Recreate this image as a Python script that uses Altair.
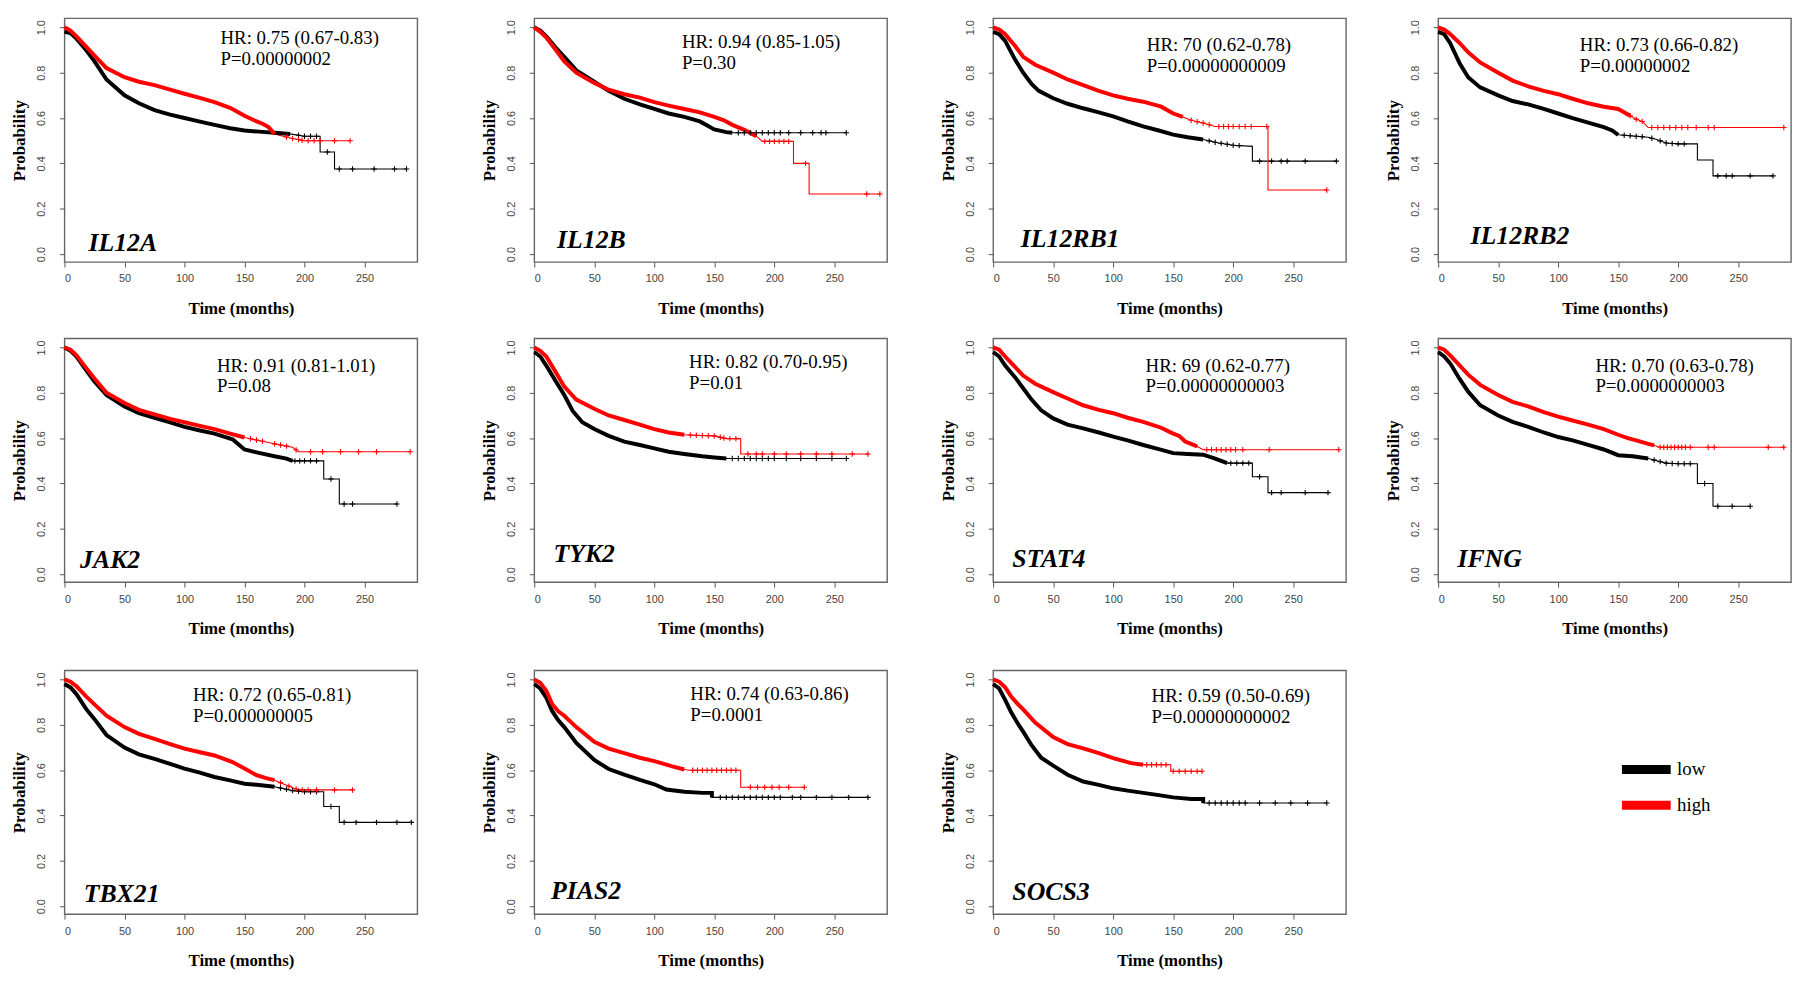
import altair as alt
import pandas as pd

genes = ["IL12A", "IL12B", "IL12RB1", "IL12RB2", "JAK2", "TYK2",
         "STAT4", "IFNG", "TBX21", "PIAS2", "SOCS3"]

hr_text = {
    "IL12A": "HR: 0.75 (0.67-0.83)", "IL12B": "HR: 0.94 (0.85-1.05)",
    "IL12RB1": "HR: 70 (0.62-0.78)", "IL12RB2": "HR: 0.73 (0.66-0.82)",
    "JAK2": "HR: 0.91 (0.81-1.01)", "TYK2": "HR: 0.82 (0.70-0.95)",
    "STAT4": "HR: 69 (0.62-0.77)", "IFNG": "HR: 0.70 (0.63-0.78)",
    "TBX21": "HR: 0.72 (0.65-0.81)", "PIAS2": "HR: 0.74 (0.63-0.86)",
    "SOCS3": "HR: 0.59 (0.50-0.69)",
}
p_text = {
    "IL12A": "P=0.00000002", "IL12B": "P=0.30", "IL12RB1": "P=0.00000000009",
    "IL12RB2": "P=0.00000002", "JAK2": "P=0.08", "TYK2": "P=0.01",
    "STAT4": "P=0.00000000003", "IFNG": "P=0.0000000003", "TBX21": "P=0.000000005",
    "PIAS2": "P=0.0001", "SOCS3": "P=0.00000000002",
}

# ---- survival curves (time in months, probability); repeated times are drops
low_t = {
    "IL12A": [0,5,10,18,25,35,50,62,75,88,100,112,125,138,150,162,175,188,200,213,213,225,225,285],
    "IL12B": [0,5,10,18,25,35,50,62,75,88,100,112,125,138,150,160,165,260],
    "IL12RB1": [0,5,10,18,25,32,38,50,62,75,88,100,112,125,138,150,162,175,188,200,216,216,286],
    "IL12RB2": [0,5,10,18,25,35,50,62,75,88,100,112,125,138,145,150,175,182,190,200,216,216,229,229,279],
    "JAK2": [0,5,10,18,25,35,50,62,75,88,100,112,125,140,150,162,175,185,190,216,216,229,229,277],
    "TYK2": [0,5,10,18,25,32,40,50,62,75,88,100,112,125,140,150,160,260],
    "STAT4": [0,5,10,18,25,32,40,50,62,75,88,100,112,125,138,150,162,175,185,195,216,216,229,229,279],
    "IFNG": [0,5,10,18,25,35,50,62,75,88,100,112,125,138,150,162,175,190,200,216,216,229,229,260],
    "TBX21": [0,5,10,18,25,35,50,62,75,88,100,112,125,138,150,162,175,190,200,216,216,229,229,289],
    "PIAS2": [0,5,10,15,20,25,35,50,62,75,88,100,110,125,140,148,148,278],
    "SOCS3": [0,5,10,15,20,25,32,40,50,62,75,88,100,112,125,138,150,165,175,175,278],
}
low_s = {
    "IL12A": [0.98,0.975,0.95,0.90,0.85,0.77,0.70,0.665,0.635,0.615,0.60,0.585,0.57,0.555,0.545,0.54,0.535,0.53,0.52,0.52,0.45,0.45,0.375,0.375],
    "IL12B": [1.0,0.985,0.96,0.91,0.87,0.81,0.76,0.72,0.685,0.66,0.64,0.62,0.605,0.585,0.55,0.538,0.535,0.535],
    "IL12RB1": [0.98,0.97,0.94,0.86,0.80,0.75,0.72,0.687,0.663,0.643,0.625,0.607,0.585,0.563,0.545,0.527,0.515,0.505,0.49,0.48,0.475,0.41,0.41],
    "IL12RB2": [0.98,0.97,0.93,0.84,0.78,0.735,0.70,0.675,0.66,0.64,0.62,0.60,0.58,0.56,0.545,0.526,0.515,0.505,0.49,0.486,0.486,0.415,0.415,0.345,0.345],
    "JAK2": [1.0,0.985,0.96,0.90,0.85,0.79,0.74,0.71,0.69,0.67,0.65,0.635,0.62,0.595,0.55,0.535,0.52,0.51,0.50,0.50,0.42,0.42,0.31,0.31],
    "TYK2": [0.98,0.96,0.92,0.85,0.79,0.72,0.67,0.64,0.61,0.585,0.57,0.555,0.54,0.53,0.52,0.515,0.51,0.51],
    "STAT4": [0.98,0.96,0.92,0.87,0.82,0.77,0.723,0.687,0.66,0.643,0.625,0.607,0.59,0.57,0.552,0.534,0.53,0.527,0.51,0.49,0.49,0.43,0.43,0.36,0.36],
    "IFNG": [0.98,0.96,0.93,0.86,0.805,0.745,0.70,0.672,0.65,0.625,0.605,0.59,0.57,0.55,0.525,0.52,0.51,0.49,0.487,0.487,0.40,0.40,0.30,0.30],
    "TBX21": [0.98,0.965,0.935,0.87,0.825,0.755,0.70,0.67,0.65,0.628,0.607,0.59,0.57,0.555,0.54,0.535,0.527,0.51,0.505,0.505,0.44,0.44,0.37,0.37],
    "PIAS2": [0.98,0.96,0.92,0.86,0.82,0.79,0.72,0.645,0.605,0.58,0.557,0.538,0.515,0.505,0.50,0.50,0.48,0.48],
    "SOCS3": [0.98,0.96,0.91,0.855,0.81,0.77,0.71,0.655,0.62,0.58,0.55,0.535,0.52,0.51,0.50,0.49,0.48,0.473,0.473,0.455,0.455],
}
high_t = {
    "IL12A": [0,5,10,18,25,35,50,62,75,88,100,112,125,138,150,158,165,170,175,182,190,200,238],
    "IL12B": [0,5,10,18,25,35,50,62,75,88,100,112,125,138,150,158,165,175,185,190,216,216,229,229,288],
    "IL12RB1": [0,5,10,18,25,35,50,62,75,88,100,112,125,140,150,158,165,175,185,229,229,278],
    "IL12RB2": [0,5,10,18,25,35,50,62,75,88,100,112,125,138,150,160,165,170,175,288],
    "JAK2": [0,5,10,18,25,35,50,62,75,88,100,112,125,138,150,162,175,190,195,288],
    "TYK2": [0,5,10,18,25,35,50,62,75,88,100,112,125,138,150,160,172,172,278],
    "STAT4": [0,5,10,18,25,35,50,62,75,88,100,112,125,140,150,155,160,165,170,175,288],
    "IFNG": [0,5,10,18,25,35,50,62,75,88,100,112,125,138,150,158,165,175,180,185,288],
    "TBX21": [0,5,10,18,25,35,50,62,75,88,100,112,125,140,150,160,168,175,185,195,240],
    "PIAS2": [0,5,10,15,20,25,35,50,62,75,88,100,115,125,130,172,172,225],
    "SOCS3": [0,5,10,15,20,25,35,50,62,75,88,100,115,125,140,148,148,174],
}
high_s = {
    "IL12A": [1.0,0.985,0.96,0.915,0.875,0.82,0.78,0.76,0.745,0.725,0.707,0.69,0.67,0.645,0.61,0.59,0.575,0.56,0.53,0.52,0.51,0.50,0.50],
    "IL12B": [1.0,0.98,0.955,0.90,0.85,0.80,0.755,0.725,0.705,0.69,0.67,0.655,0.64,0.625,0.605,0.59,0.57,0.548,0.52,0.497,0.497,0.40,0.40,0.265,0.265],
    "IL12RB1": [1.0,0.99,0.97,0.92,0.87,0.835,0.80,0.77,0.745,0.72,0.70,0.685,0.672,0.65,0.62,0.605,0.59,0.578,0.563,0.563,0.283,0.283],
    "IL12RB2": [1.0,0.99,0.97,0.93,0.89,0.845,0.80,0.765,0.74,0.72,0.705,0.685,0.665,0.65,0.64,0.61,0.595,0.585,0.558,0.558],
    "JAK2": [1.0,0.99,0.965,0.91,0.863,0.80,0.755,0.725,0.705,0.685,0.67,0.655,0.64,0.62,0.603,0.59,0.575,0.56,0.54,0.54],
    "TYK2": [1.0,0.985,0.96,0.89,0.827,0.77,0.73,0.70,0.68,0.66,0.64,0.625,0.615,0.612,0.61,0.598,0.598,0.53,0.53],
    "STAT4": [1.0,0.99,0.96,0.915,0.876,0.84,0.803,0.775,0.745,0.725,0.71,0.69,0.672,0.646,0.62,0.61,0.585,0.575,0.563,0.549,0.549],
    "IFNG": [1.0,0.99,0.965,0.92,0.88,0.835,0.79,0.76,0.74,0.715,0.695,0.678,0.66,0.64,0.615,0.60,0.59,0.575,0.568,0.56,0.56],
    "TBX21": [1.0,0.99,0.97,0.925,0.89,0.84,0.79,0.76,0.738,0.715,0.695,0.68,0.665,0.636,0.607,0.578,0.565,0.556,0.534,0.513,0.513],
    "PIAS2": [1.0,0.985,0.95,0.89,0.86,0.84,0.79,0.725,0.695,0.675,0.655,0.64,0.617,0.603,0.60,0.60,0.525,0.525],
    "SOCS3": [1.0,0.99,0.965,0.925,0.895,0.868,0.81,0.746,0.715,0.696,0.675,0.653,0.631,0.624,0.624,0.624,0.595,0.595],
}
# censoring marks in the sparse tails
low_cens = {
    "IL12A": [195,200,205,210,219,229,240,258,275,285],
    "IL12B": [170,175,180,185,190,195,200,205,212,222,232,239,243,260],
    "IL12RB1": [180,185,190,195,200,205,222,232,240,245,260,286],
    "IL12RB2": [155,160,165,170,178,185,190,195,200,205,233,240,245,260,279],
    "JAK2": [192,196,200,205,210,222,233,240,277],
    "TYK2": [165,170,175,180,185,190,195,200,210,222,235,248,260],
    "STAT4": [198,203,208,213,222,232,240,260,279],
    "IFNG": [180,185,190,195,200,205,210,222,233,245,260],
    "TBX21": [180,185,190,195,200,205,210,222,233,243,260,277,289],
    "PIAS2": [155,160,165,170,175,180,185,190,195,200,205,215,222,235,248,262,278],
    "SOCS3": [180,185,190,195,200,205,210,222,235,248,262,278],
}
high_cens = {
    "IL12A": [185,190,195,198,203,208,213,225,238],
    "IL12B": [192,196,200,204,208,212,226,277,288],
    "IL12RB1": [165,170,175,180,188,192,196,200,205,210,215,228,278],
    "IL12RB2": [160,165,170,178,183,188,193,198,203,208,215,225,230,288],
    "JAK2": [155,160,165,175,180,185,193,205,215,230,245,260,288],
    "TYK2": [130,135,140,145,150,155,158,163,168,178,185,190,200,210,222,235,248,265,278],
    "STAT4": [178,182,186,190,194,198,202,208,230,288],
    "IFNG": [185,188,191,194,197,200,203,206,210,225,230,275,288],
    "TBX21": [180,187,193,198,203,210,225,240],
    "PIAS2": [132,136,140,144,148,152,156,160,164,168,180,186,192,198,204,212,225],
    "SOCS3": [128,132,136,140,144,150,155,160,165,170,174],
}
# end of the densely censored stretch (drawn heavier)
low_dense = {"IL12A": 190, "IL12B": 195, "IL12RB1": 175, "IL12RB2": 150, "JAK2": 190, "TYK2": 160,
             "STAT4": 195, "IFNG": 178, "TBX21": 178, "PIAS2": 150, "SOCS3": 175}
high_dense = {"IL12A": 180, "IL12B": 185, "IL12RB1": 160, "IL12RB2": 160, "JAK2": 150, "TYK2": 125,
              "STAT4": 170, "IFNG": 180, "TBX21": 175, "PIAS2": 128, "SOCS3": 125}

# annotation anchors (months, probability)
hr_anchor_t = {"IL12A": 130, "IL12B": 123, "IL12RB1": 128, "IL12RB2": 118, "JAK2": 127, "TYK2": 129,
               "STAT4": 127, "IFNG": 131, "TBX21": 107, "PIAS2": 130, "SOCS3": 132}
hr_anchor_s = {"IL12A": 0.952, "IL12B": 0.935, "IL12RB1": 0.92, "IL12RB2": 0.92, "JAK2": 0.92, "TYK2": 0.935,
               "STAT4": 0.92, "IFNG": 0.92, "TBX21": 0.93, "PIAS2": 0.935, "SOCS3": 0.925}
gene_anchor_t = {"IL12A": 20, "IL12B": 19, "IL12RB1": 23, "IL12RB2": 27, "JAK2": 13, "TYK2": 16,
                 "STAT4": 16, "IFNG": 16, "TBX21": 16, "PIAS2": 14, "SOCS3": 16}
gene_anchor_s = {"IL12A": 0.05, "IL12B": 0.063, "IL12RB1": 0.066, "IL12RB2": 0.08, "JAK2": 0.061, "TYK2": 0.087,
                 "STAT4": 0.066, "IFNG": 0.066, "TBX21": 0.053, "PIAS2": 0.069, "SOCS3": 0.061}

GROUPS = ["low", "high"]
COLORS = ["#000000", "#ff0000"]
W, H = 356, 246
XDOM = [0, 294]
YDOM = [-0.035, 1.04]
SERIF = "Liberation Serif"


def value_at(ts, ss, t):
    v = ss[0]
    for i in range(len(ts) - 1):
        t0, t1 = ts[i], ts[i + 1]
        if t1 > t0 and t0 <= t <= t1:
            v = ss[i] + (ss[i + 1] - ss[i]) * (t - t0) / (t1 - t0)
        elif t1 == t0 and t >= t1:
            v = ss[i + 1]
    if t >= ts[-1]:
        v = ss[-1]
    return v


def panel(g, legend=False):
    rows, dense, cens = [], [], []
    for grp, T, S, C, D in [("low", low_t, low_s, low_cens, low_dense),
                            ("high", high_t, high_s, high_cens, high_dense)]:
        for i, (t, s) in enumerate(zip(T[g], S[g])):
            rows.append({"group": grp, "t": t, "s": s, "i": i})
            if t <= D[g]:
                dense.append({"group": grp, "t": t, "s": s, "i": i})
        for t in C[g]:
            cens.append({"group": grp, "t": t, "s": value_at(T[g], S[g], t)})
    df, dd, dc = pd.DataFrame(rows), pd.DataFrame(dense), pd.DataFrame(cens)

    xenc = alt.X("t:Q", scale=alt.Scale(domain=XDOM, nice=False, zero=False),
                 axis=alt.Axis(values=[0, 50, 100, 150, 200, 250], title="Time (months)"))
    yenc = alt.Y("s:Q", scale=alt.Scale(domain=YDOM, nice=False, zero=False),
                 axis=alt.Axis(values=[0, 0.2, 0.4, 0.6, 0.8, 1.0], format=".1f", title="Probability",
                               labelAngle=270, labelAlign="center", labelBaseline="bottom"))
    if legend:
        leg = alt.Legend(title=None, orient="none", legendX=643, legendY=84,
                         symbolType="M-2.2,0H2.2", symbolSize=500, symbolStrokeWidth=9,
                         labelFont=SERIF, labelFontSize=19, labelColor="black",
                         labelOffset=15, rowPadding=0, padding=0)
    else:
        leg = None
    cscale = alt.Scale(domain=GROUPS, range=COLORS)

    def cenc():
        return alt.Color("group:N", scale=cscale, legend=leg)

    thin = alt.Chart(df).mark_line(strokeWidth=1.1).encode(
        x=xenc, y=yenc, color=cenc(), order="i:Q")
    thick = alt.Chart(dd).mark_line(strokeWidth=4).encode(
        x="t:Q", y="s:Q", color=cenc(), order="i:Q")
    plus = alt.Chart(dc).mark_point(shape="M-1,0H1M0,-1V1", filled=False, size=30, strokeWidth=1.1,
                                     opacity=1).encode(x="t:Q", y="s:Q", color=cenc())

    ann = pd.DataFrame([
        {"t": hr_anchor_t[g], "s": hr_anchor_s[g], "txt": hr_text[g]},
        {"t": hr_anchor_t[g], "s": hr_anchor_s[g] - 0.092, "txt": p_text[g]},
    ])
    hr = alt.Chart(ann).mark_text(font=SERIF, fontSize=19, align="left", baseline="middle",
                                  color="black").encode(x="t:Q", y="s:Q", text="txt:N")
    gl = alt.Chart(pd.DataFrame([{"t": gene_anchor_t[g], "s": gene_anchor_s[g], "txt": g}])).mark_text(
        font=SERIF, fontSize=26, fontStyle="italic", fontWeight="bold", align="left", baseline="middle",
        color="black").encode(x="t:Q", y="s:Q", text="txt:N")

    return alt.layer(thin, thick, plus, hr, gl).properties(width=W, height=H)


P = {g: panel(g, legend=(g == "SOCS3")) for g in genes}


def hc(*charts, spacing):
    return alt.hconcat(*charts, spacing=spacing).resolve_scale(color="independent").resolve_legend(color="independent")


S1, S2, S3 = 62, 51, 37
row1 = hc(P["IL12A"], hc(P["IL12B"], hc(P["IL12RB1"], P["IL12RB2"], spacing=S3), spacing=S2), spacing=S1)
row2 = hc(P["JAK2"], hc(P["TYK2"], hc(P["STAT4"], P["IFNG"], spacing=S3), spacing=S2), spacing=S1)
row3 = hc(P["TBX21"], hc(P["PIAS2"], P["SOCS3"], spacing=S2), spacing=S1)

inner = alt.vconcat(row2, row3, spacing=32).resolve_scale(color="independent").resolve_legend(color="independent")
chart = alt.vconcat(row1, inner, spacing=20).resolve_scale(color="independent").resolve_legend(
    color="independent"
).properties(
    padding={"left": 2, "top": 5, "right": 0, "bottom": 0},
    background="white",
).configure_view(
    stroke="#666666", strokeWidth=1.4
).configure_axis(
    grid=False, domain=False, tickSize=5, tickColor="#555555", tickWidth=1,
    labelFont="Liberation Sans", labelFontSize=11, labelColor="#444444",
    titleFont=SERIF, titleFontSize=17, titleFontWeight="bold", titleColor="black",
).configure_axisX(
    labelPadding=6, titlePadding=17
).configure_axisY(
    labelPadding=13, titlePadding=7
)

chart.save("out.html", embed_options={"renderer": "svg", "actions": False})
